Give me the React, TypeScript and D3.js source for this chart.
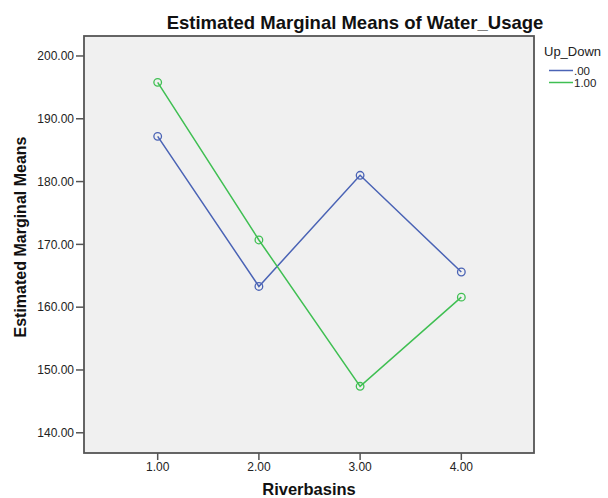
import React from "react";
import * as d3 from "d3";

const categories = [1, 2, 3, 4];
const seriesDown = [187.2, 163.3, 181.0, 165.6]; // Up_Down = .00
const seriesUp = [195.8, 170.7, 147.4, 161.6]; // Up_Down = 1.00
const yTicks = [140, 150, 160, 170, 180, 190, 200];
const seriesNames = [".00", "1.00"];
const seriesColors = ["#4a63b5", "#3fbf52"];

const W = 608;
const H = 498;
const left = 84;
const right = 534;
const top = 36;
const bottom = 453;

export default function App() {
  const x = d3.scaleLinear().domain([0.272, 4.718]).range([left, right]);
  const y = d3.scaleLinear().domain([136.78, 203.18]).range([bottom, top]);
  const line = d3
    .line<number>()
    .x((_, i) => x(categories[i]))
    .y((d) => y(d));
  const series = [seriesDown, seriesUp];
  const font = "'Liberation Sans', Arial, sans-serif";
  return (
    <svg
      width={W}
      height={H}
      style={{ position: "absolute", left: 0, top: 0, background: "#fff" }}
      fontFamily={font}
    >
      <rect x={left} y={top} width={right - left} height={bottom - top} fill="#f0f0f0" />
      {series.map((s, si) => (
        <g key={si}>
          <path d={line(s) || ""} fill="none" stroke={seriesColors[si]} strokeWidth={1.5} />
          {s.map((v, i) => (
            <circle
              key={i}
              cx={x(categories[i])}
              cy={y(v)}
              r={3.8}
              fill="none"
              stroke={seriesColors[si]}
              strokeWidth={1.3}
            />
          ))}
        </g>
      ))}
      <rect
        x={left}
        y={top}
        width={right - left}
        height={bottom - top}
        fill="none"
        stroke="#555"
        strokeWidth={1.8}
      />
      {yTicks.map((t) => (
        <g key={t}>
          <line x1={left - 8} x2={left} y1={y(t)} y2={y(t)} stroke="#555" strokeWidth={1.5} />
          <text x={left - 10} y={y(t)} dy="0.35em" textAnchor="end" fontSize={12} fill="#222">
            {t.toFixed(2)}
          </text>
        </g>
      ))}
      {categories.map((c) => (
        <g key={c}>
          <line x1={x(c)} x2={x(c)} y1={bottom} y2={bottom + 7} stroke="#555" strokeWidth={1.5} />
          <text x={x(c)} y={bottom + 18} textAnchor="middle" fontSize={12} fill="#222">
            {c.toFixed(2)}
          </text>
        </g>
      ))}
      <text x={355} y={28.5} textAnchor="middle" fontSize={18.5} fontWeight="bold" fill="#111">
        Estimated Marginal Means of Water_Usage
      </text>
      <text
        x={(left + right) / 2}
        y={495}
        textAnchor="middle"
        fontSize={16.5}
        fontWeight="bold"
        fill="#111"
      >
        Riverbasins
      </text>
      <text
        transform={`translate(26, ${237}) rotate(-90)`}
        textAnchor="middle"
        fontSize={16}
        fontWeight="bold"
        fill="#111"
      >
        Estimated Marginal Means
      </text>
      <text x={544} y={56} fontSize={13} fill="#222">
        Up_Down
      </text>
      {seriesNames.map((n, i) => (
        <g key={n}>
          <line
            x1={549}
            x2={573}
            y1={70.5 + i * 12}
            y2={70.5 + i * 12}
            stroke={seriesColors[i]}
            strokeWidth={1.5}
          />
          <text x={574} y={70.5 + i * 12} dy="0.35em" fontSize={11.5} fill="#222">
            {n}
          </text>
        </g>
      ))}
    </svg>
  );
}
